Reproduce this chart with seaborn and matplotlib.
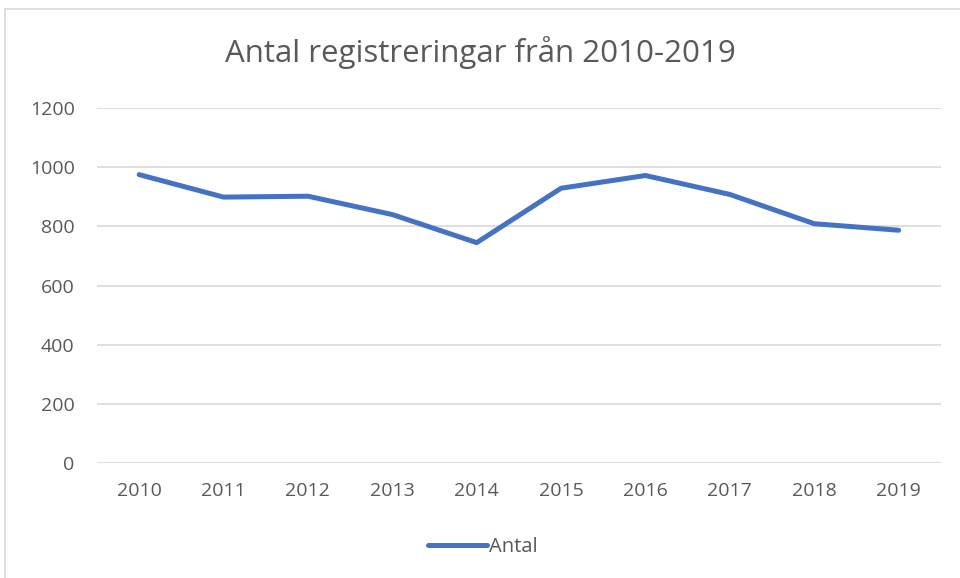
import matplotlib
matplotlib.use("Agg")
import matplotlib.pyplot as plt
import seaborn as sns
import pandas as pd
from matplotlib.patches import Rectangle

# Data
years = ["2010", "2011", "2012", "2013", "2014", "2015", "2016", "2017", "2018", "2019"]
antal = [975, 899, 902, 840, 745, 929, 972, 908, 809, 787]
y_ticks = [0, 200, 400, 600, 800, 1000, 1200]

df = pd.DataFrame({"år": years, "Antal": antal})

sns.set_theme(style="white")
plt.rcParams["font.family"] = ["Open Sans", "DejaVu Sans"]

fig = plt.figure(figsize=(9.6, 5.78), dpi=100)
ax = fig.add_axes([0.101, 0.199, 0.879, 0.614])

sns.lineplot(data=df, x="år", y="Antal", ax=ax, color="#4472C4",
             linewidth=3.6, solid_capstyle="round", label="Antal", sort=False)

ax.set_xlim(-0.5, len(years) - 0.5)
ax.set_ylim(0, 1200)
ax.set_yticks(y_ticks)
ax.set_yticklabels([str(t) for t in y_ticks])
ax.grid(axis="y", color="#D9D9D9", linewidth=1.2)
ax.set_axisbelow(True)
for s in ax.spines.values():
    s.set_visible(False)
ax.tick_params(axis="both", length=0, labelsize=14, labelcolor="#595959")
ax.tick_params(axis="x", pad=14)
ax.tick_params(axis="y", pad=16)
ax.set_xlabel("")
ax.set_ylabel("")

fig.text(0.5, 1 - 62 / 578, "Antal registreringar från 2010-2019", ha="center", va="baseline",
         fontsize=22.5, color="#595959")

ax.get_legend().remove()
handles, labels = ax.get_legend_handles_labels()
fig.legend(handles, labels, loc="center", bbox_to_anchor=(0.503, 0.054), frameon=False,
           fontsize=14.5, labelcolor="#595959", handlelength=2.9, handletextpad=0.1)

# light outer chart border (top and left visible)
fig.patches.append(Rectangle((0.005, -0.05), 1.1, 1.035, transform=fig.transFigure,
                             fill=False, edgecolor="#D9D9D9", linewidth=1.2))

fig.savefig("out.png", dpi=100)
